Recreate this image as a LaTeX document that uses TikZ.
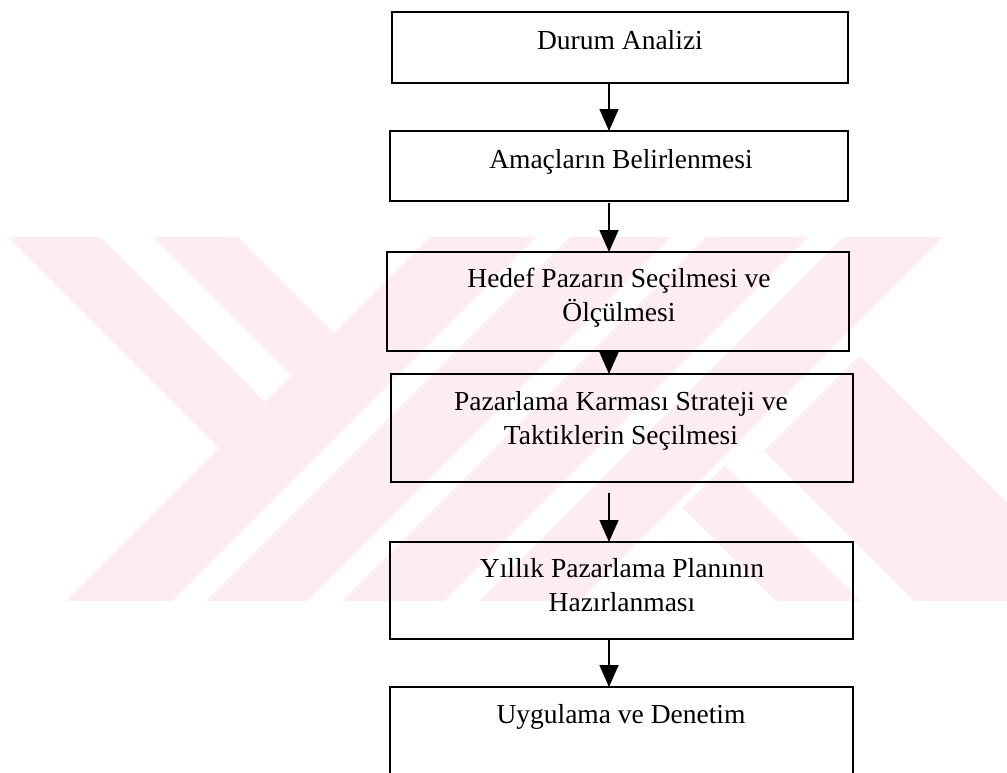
\documentclass[tikz,border=0pt]{standalone}
\usepackage{fontspec}
\setmainfont{Liberation Serif}
\usetikzlibrary{arrows.meta}
\definecolor{wmpink}{RGB}{253,236,240}
% two centred lines whose baseline is that of the first line
\newcommand{\twolines}[2]{\vtop{\baselineskip=34pt\tabskip=0pt\halign{\hfil##\hfil\cr #1\cr #2\cr}}}

\begin{document}
\begin{tikzpicture}[x=1pt,y=-1pt,
  box/.style={draw, line width=1.8pt, inner sep=0pt, outer sep=0pt, anchor=north west},
  boxtext/.style={anchor=base, inner sep=0pt, font=\fontsize{27.5}{34}\selectfont},
  flowarrow/.style={line width=1.6pt, -{Triangle[width=19pt,length=22pt]}}]
\useasboundingbox (0,0) rectangle (1007,772);
\clip (0,0) rectangle (1007,772);

% pale chevron emblem in the background
\begin{scope}
  \clip (0,237) rectangle (1007,600);
  % left chevron arms
  \fill[wmpink] (-29,200) -- (63,200) -- (281.5,418.5) -- (235.5,464.5) -- cycle;
  \fill[wmpink] (116,200) -- (201,200) -- (350.5,349.5) -- (308,392) -- cycle;
  % rising strokes
  \fill[wmpink] (467,200) -- (573,200) -- (133,640) -- (27,640) -- cycle;
  \fill[wmpink] (607,200) -- (708,200) -- (268,640) -- (167,640) -- cycle;
  \fill[wmpink] (743,200) -- (845,200) -- (405,640) -- (303,640) -- cycle;
  \fill[wmpink] (880,200) -- (980,200) -- (540,640) -- (440,640) -- cycle;
  % right falling arms
  \fill[wmpink] (859.5,355.5) -- (1204,700) -- (1013,700) -- (764,451) -- cycle;
  \fill[wmpink] (725,465) -- (960,700) -- (875,700) -- (682.5,507.5) -- cycle;
\end{scope}

% process boxes
\node[box, minimum width=456pt, minimum height=71pt]  (b1) at (392,12)  {};
\node[box, minimum width=458pt, minimum height=70pt]  (b2) at (390,131) {};
\node[box, minimum width=462pt, minimum height=99pt]  (b3) at (387,252) {};
\node[box, minimum width=462pt, minimum height=108pt] (b4) at (391,374) {};
\node[box, minimum width=463pt, minimum height=97pt]  (b5) at (390,542) {};
\node[box, minimum width=463pt, minimum height=120pt] (b6) at (390,687) {};

% box texts
\node[boxtext] (t1) at (620,49)  {Durum Analizi};
\node[boxtext] (t2) at (621,168) {Amaçların Belirlenmesi};
\node[boxtext] (t3) at (619,287) {\twolines{Hedef Pazarın Seçilmesi ve}{Ölçülmesi}};
\node[boxtext] (t4) at (621,410) {\twolines{Pazarlama Karması Strateji ve}{Taktiklerin Seçilmesi}};
\node[boxtext] (t5) at (622,577) {\twolines{Yıllık Pazarlama Planının}{Hazırlanması}};
\node[boxtext] (t6) at (621,723) {Uygulama ve Denetim};

% connectors
\coordinate (ax) at (609,0);
\draw[flowarrow] (b1.south -| ax) -- (b2.north -| ax);
\draw[flowarrow, shorten <=2pt] (b2.south -| ax) -- (b3.north -| ax);
\draw[flowarrow] (b3.south -| ax) -- (b4.north -| ax);
\draw[flowarrow, shorten <=11pt] (b4.south -| ax) -- (b5.north -| ax);
\draw[flowarrow] (b5.south -| ax) -- (b6.north -| ax);
\end{tikzpicture}
\end{document}
